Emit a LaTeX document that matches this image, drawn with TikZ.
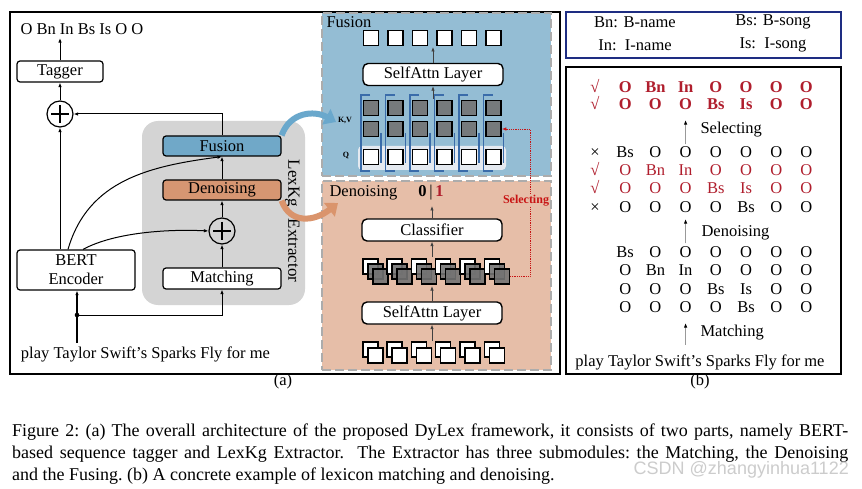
\documentclass[tikz,border=0pt]{standalone}
\usepackage{fontspec}
\setmainfont{Liberation Serif}
\setsansfont{Liberation Sans}
\usetikzlibrary{arrows.meta, positioning, calc}
\definecolor{fusblue}{RGB}{112,168,200}
\definecolor{denor}{RGB}{214,150,114}
\definecolor{fuspan}{RGB}{148,189,212}
\definecolor{denpan}{RGB}{230,190,168}
\definecolor{lexgray}{RGB}{212,212,212}
\definecolor{fusarr}{RGB}{106,168,204}
\definecolor{denarr}{RGB}{218,148,108}
\definecolor{selred}{RGB}{200,20,20}
\definecolor{tokred}{RGB}{176,30,45}
\definecolor{legblue}{RGB}{30,45,130}
\definecolor{brk}{RGB}{58,108,170}
\definecolor{qback}{RGB}{228,233,240}

\begin{document}
\begin{tikzpicture}[x=1pt, y=-1pt, >={Latex[length=4.5pt,width=3.5pt]},
  font=\fontsize{16.5}{19}\selectfont,
  frame/.style={draw, line width=1.8pt, inner sep=0pt},
  blk/.style={draw, line width=1.2pt, rounded corners=3pt, minimum width=118pt, minimum height=20pt, inner sep=0pt},
  attn/.style={draw, line width=1.4pt, rounded corners=5pt, minimum width=140pt, minimum height=22pt, inner sep=0pt, fill=white},
  oplus/.style={circle, draw, line width=1.2pt, minimum size=26pt, inner sep=0pt,
    path picture={\draw[line width=1.2pt] ([yshift=-4pt]path picture bounding box.north) -- ([yshift=4pt]path picture bounding box.south)
      ([xshift=4pt]path picture bounding box.west) -- ([xshift=-4pt]path picture bounding box.east);}},
  panel/.style={draw=gray!65, line width=2pt, dash pattern=on 9pt off 4pt, inner sep=0pt},
  sq/.style={draw, line width=1.5pt, minimum size=15pt, inner sep=0pt, fill=white},
  gsq/.style={sq, fill=black!55, fill opacity=0.9},
  thin arrow/.style={->, draw=black!75, line width=0.7pt},
  big arrow/.style={line width=6pt, -{Triangle[length=11pt,width=17pt]}},
  tok/.style={inner sep=0pt, text height=11pt, text depth=0pt},
  bk/.style={tok},
  rn/.style={tok, text=tokred},
  rb/.style={tok, text=tokred, font=\fontsize{16.5}{19}\selectfont\bfseries},
  capline/.style={anchor=west, inner sep=0pt, font=\fontsize{18}{22}\selectfont\frenchspacing},
  barrow/.style={draw=black!40, line width=1pt, -{Latex[black,length=5pt,width=3.5pt]}}]
  % DyLex: (a) model, (b) example
  \fill[white] (0,0) rectangle (862,489);
  \useasboundingbox (0,0) rectangle (862,489);

  \node[frame, minimum width=550pt, minimum height=362pt] (pa) at (285,193) {};
  \node[frame, minimum width=275pt, minimum height=307pt] (pb) at (703.5,220.5) {};
  \node[draw=legblue, line width=1.6pt, minimum width=275pt, minimum height=46pt] (leg) at (703.5,35) {};

  % LexKg extractor
  \node[fill=lexgray, rounded corners=16pt, minimum width=163pt, minimum height=184pt] (lex) at (223.5,213) {};
  \node[blk, fill=fusblue] (fus) at (222,146) {Fusion};
  \node[blk, fill=denor] (den) at (222,190) {Denoising};
  \node[oplus] (p2) at (222,231) {};
  \node[blk, fill=white, minimum height=21pt] (mat) at (222,278.5) {Matching};
  \node[rotate=-90, font=\fontsize{17}{19}\selectfont] (lexlbl) at (292,221) {LexKg\hspace{12pt}Extractor};

  % tagger side
  \node (out) at (82,29) {O Bn In Bs Is O O};
  \node[blk, fill=white, minimum width=86pt, minimum height=21pt] (tag) at (60,71.5) {Tagger};
  \node[oplus] (p1) at (60,114) {};
  \node[blk, fill=white, minimum height=40pt, align=center] (bert) at (76,270) {BERT\\Encoder};
  \node (inp) at (145.5,354) {play Taylor Swift's Sparks Fly for me};
  \coordinate (dot) at (77,315);

  \draw[->, line width=1pt] (tag.north) -- (tag.north |- out.south);
  \draw[->, line width=1pt] (p1) -- (tag);
  \draw[->, line width=1pt] (p1 |- bert.north) -- (p1);
  \draw[->, line width=1pt] (fus.north) |- (p1);
  \draw[->, line width=1pt] (den) -- (fus);
  \draw[->, line width=1pt] (p2) -- (den);
  \draw[->, line width=1pt] (mat) -- (p2);
  \draw[->, line width=1pt] ([xshift=-8pt]bert.north) .. controls (88,180) and (150,166) .. (fus.south);
  \draw[->, line width=1pt] ([xshift=7pt]bert.north) .. controls (115,232) and (170,229) .. (p2.west);
  \draw[->, line width=1.8pt] (inp.north -| dot) -- (bert.south -| dot);
  \fill (dot) circle (2.3pt);
  \draw[->, line width=1pt] (dot) -| (mat.south);

  % Fusion panel
  \node[panel, fill=fuspan, minimum width=229pt, minimum height=163pt] (fpan) at (436.5,94.5) {};
  \node[anchor=west] (flbl) at (323,22) {Fusion};
  \node[fill=qback, rounded corners=4pt, minimum width=148pt, minimum height=24pt] (qbg) at (432,158) {};
  \foreach \i in {0,...,5}{
    \pgfmathsetmacro\cx{371+24.5*\i}
    \draw[brk, line width=1.1pt] (\cx-1,95) -- (\cx-10,95) -- (\cx-10,171) -- (\cx-1,171)
      (\cx+10,133) -- (\cx+10,163);
    \node[sq] (t\i) at (\cx,38) {};
    \node[gsq] (k\i) at (\cx,108) {};
    \node[gsq] (v\i) at (\cx,129) {};
    \node[sq] (q\i) at (\cx,157) {};
  }
  \node[attn] (sa1) at (433,74.5) {SelfAttn Layer};
  \node[font=\fontsize{8}{8}\selectfont\bfseries] (kv) at (345,121) {K,V};
  \node[font=\fontsize{8}{8}\selectfont\bfseries] (ql) at (346,156) {Q};
  \coordinate (fa1) at (433,47);
  \coordinate (fa2) at (433,99);
  \draw[thin arrow] (sa1) -- (fa1);
  \draw[thin arrow] (fa2) -- (sa1);

  % Denoising panel
  \node[panel, fill=denpan, minimum width=229pt, minimum height=189pt] (dpan) at (436.5,275.5) {};
  \node[anchor=west] (dlbl) at (326,193) {Denoising};
  \node[font=\fontsize{16.5}{19}\selectfont\bfseries] (bin) at (431,193) {0\,{\mdseries|}\,\textcolor{tokred}{1}};
  \node[attn] (cls) at (432,230) {Classifier};
  \node[attn] (sa2) at (432,313) {SelfAttn Layer};
  \foreach \i in {0,...,5}{
    \pgfmathsetmacro\bx{362+24.3*\i}
    \node[sq, anchor=north west] (dw\i) at (\bx,258) {};
    \node[gsq, anchor=north west] (dg\i) at (\bx+5,263) {};
    \node[gsq, anchor=north west] (dh\i) at (\bx+10,268) {};
    \node[sq, anchor=north west] (bw\i) at (\bx,341) {};
    \node[sq, anchor=north west] (bf\i) at (\bx+5,347) {};
  }
  \coordinate (da1) at (432,206);
  \coordinate (da2) at (432,257);
  \coordinate (da3) at (432,286);
  \coordinate (da4) at (432,341);
  \draw[thin arrow] (cls) -- (da1);
  \draw[thin arrow] (da2) -- (cls);
  \draw[thin arrow] (sa2) -- (da3);
  \draw[thin arrow] (da4) -- (sa2);
  \draw[selred, densely dotted, line width=0.8pt, ->] (dh5.east) -- ++(20,0) |- (v5.east);
  \node[fill=denpan, inner sep=1pt, text=selred, font=\fontsize{12}{12}\selectfont\bfseries] (sel) at (526,201) {Selecting};

  % hand-over arrows
  \coordinate (ba) at (336,122);
  \coordinate (oa) at (338,203);
  \draw[big arrow, fusarr] (fus.north east) .. controls (290,112) and (314,110) .. (ba);
  \draw[big arrow, denarr] (den.south east) .. controls (290,224) and (314,222) .. (oa);

  \node (la) at (283,382) {(a)};

  % (b) legend and example
  \node (lbn) at (635,22) {Bn: B-name};
  \node (lbs) at (773,22) {Bs: B-song};
  \node (lin) at (635,45) {In:\ \ I-name};
  \node (lis) at (773,45) {Is:\ \ I-song};
  \foreach \y/\sty/\mk/\row [count=\i] in {
      87/rb/√/{O,Bn,In,O,O,O,O},
      104/rb/√/{O,O,O,Bs,Is,O,O},
      152/bk/×/{Bs,O,O,O,O,O,O},
      170/rn/√/{O,Bn,In,O,O,O,O},
      188/rn/√/{O,O,O,Bs,Is,O,O},
      207/bk/×/{O,O,O,O,Bs,O,O},
      252/bk/{}/{Bs,O,O,O,O,O,O},
      270/bk/{}/{O,Bn,In,O,O,O,O},
      289/bk/{}/{O,O,O,Bs,Is,O,O},
      307/bk/{}/{O,O,O,O,Bs,O,O}}{
    \node[\sty, font=\fontsize{16.5}{19}\selectfont] (m\i) at (595,\y) {\mk};
    \foreach \tk [count=\j] in \row
      \node[\sty] (b\i-\j) at (595+30.2*\j,\y) {\tk};
  }
  \node (inb) at (700,362) {play Taylor Swift's Sparks Fly for me};
  \draw[barrow, shorten <=2pt, shorten >=10pt] (b3-3.north) -- (b2-3.south);
  \node[anchor=west] (lsel) at (697,130) {Selecting};
  \draw[barrow, shorten <=3pt, shorten >=6pt] (b7-3.north) -- (b6-3.south);
  \node[anchor=west] (lden) at (698,233) {Denoising};
  \draw[barrow, shorten <=6pt, shorten >=10pt] (inb.north -| b10-3) -- (b10-3.south);
  \node[anchor=west] (lmat) at (697,333) {Matching};
  \node (lb) at (700,382) {(b)};

  % caption
  \node[capline] (cap1) at (12,432)
    {\makebox[836pt][s]{Figure 2: (a) The overall architecture of the proposed DyLex framework, it consists of two parts, namely BERT-}};
  \node[capline] (cap2) at (12,454)
    {\makebox[836pt][s]{based sequence tagger and LexKg Extractor.\ \ The Extractor has three submodules: the Matching, the Denoising}};
  \node[capline] (cap3) at (12,476)
    {and the Fusing. (b) A concrete example of lexicon matching and denoising.};
  \node[anchor=east, inner sep=0pt, text=gray!40, font=\sffamily\fontsize{18}{18}\selectfont] (wm) at (849,470) {CSDN @zhangyinhua1122};
\end{tikzpicture}
\end{document}
